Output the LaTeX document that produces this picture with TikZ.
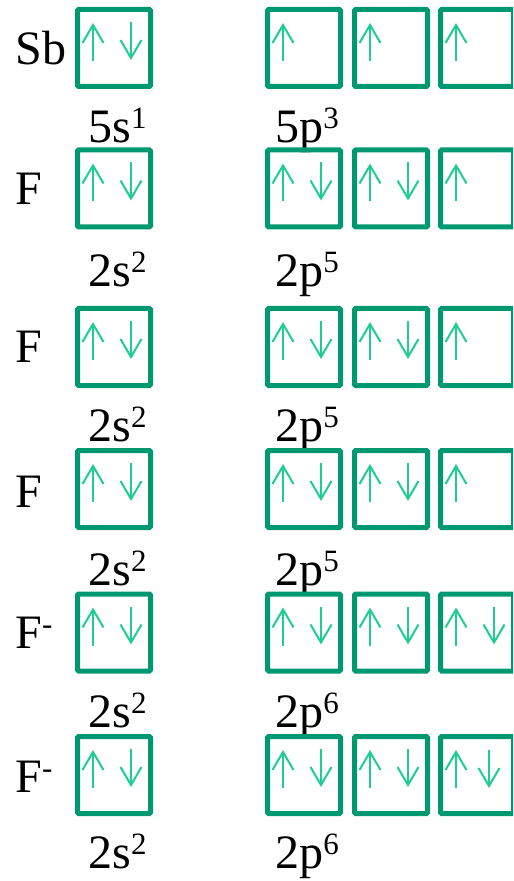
\documentclass[tikz,border=0pt]{standalone}
\usepackage{fontspec}
\setmainfont{Liberation Serif}
\usetikzlibrary{arrows.meta}
\definecolor{orbgreen}{RGB}{0,152,113}
\definecolor{spingreen}{RGB}{30,205,145}
\newcommand{\shellup}[1]{\raisebox{7pt}{\fontsize{15.5}{15.5}\selectfont #1}}

\begin{document}
\begin{tikzpicture}[x=0.5pt,y=-0.5pt,font=\fontsize{24}{24}\selectfont]

                \tikzset{orb/.style = {draw=orbgreen, line width=2.5pt, minimum width=36.5pt, minimum height=38.5pt, inner sep=0pt, rounded corners=0.6pt}}
                \tikzset{spin/.style = {draw=spingreen, line width=1pt, -{Straight Barb[length=9pt,width=10.5pt]}}}
                \tikzset{elem/.style = {anchor=base west, inner sep=0pt}}

                \useasboundingbox (0,0) rectangle (513,881);
                \clip (0,0) rectangle (513,881);

                % Sb
                \node[elem] (lab1) at (15,65) {Sb};
                \node[orb] (s1)  at (114,48) {};
                \node[orb] (p1x) at (304,48) {};
                \node[orb] (p1y) at (391,48) {};
                \node[orb] (p1z) at (477,48) {};
                \node[elem] (sub1s) at (88,143)  {5s\shellup{1}};
                \node[elem] (sub1p) at (275,143) {5p\shellup{3}};

                % F
                \node[elem] (lab2) at (15,205) {F};
                \node[orb] (s2)  at (114,188.5) {};
                \node[orb] (p2x) at (304,188.5) {};
                \node[orb] (p2y) at (391,188.5) {};
                \node[orb] (p2z) at (477,188.5) {};
                \node[elem] (sub2s) at (88,287)  {2s\shellup{2}};
                \node[elem] (sub2p) at (275,287) {2p\shellup{5}};

                % F
                \node[elem] (lab3) at (15,363) {F};
                \node[orb] (s3)  at (114,347) {};
                \node[orb] (p3x) at (304,347) {};
                \node[orb] (p3y) at (391,347) {};
                \node[orb] (p3z) at (477,347) {};
                \node[elem] (sub3s) at (88,441)  {2s\shellup{2}};
                \node[elem] (sub3p) at (275,441) {2p\shellup{5}};

                % F
                \node[elem] (lab4) at (15,507) {F};
                \node[orb] (s4)  at (114,489) {};
                \node[orb] (p4x) at (304,489) {};
                \node[orb] (p4y) at (391,489) {};
                \node[orb] (p4z) at (477,489) {};
                \node[elem] (sub4s) at (88,585)  {2s\shellup{2}};
                \node[elem] (sub4p) at (275,585) {2p\shellup{5}};

                % F-
                \node[elem] (lab5) at (15,648) {F\shellup{-}};
                \node[orb] (s5)  at (114,632.5) {};
                \node[orb] (p5x) at (304,632.5) {};
                \node[orb] (p5y) at (391,632.5) {};
                \node[orb] (p5z) at (477,632.5) {};
                \node[elem] (sub5s) at (88,727)  {2s\shellup{2}};
                \node[elem] (sub5p) at (275,727) {2p\shellup{6}};

                % F-
                \node[elem] (lab6) at (15,792) {F\shellup{-}};
                \node[orb] (s6)  at (114,775) {};
                \node[orb] (p6x) at (304,775) {};
                \node[orb] (p6y) at (391,775) {};
                \node[orb] (p6z) at (477,775) {};
                \node[elem] (sub6s) at (88,868)  {2s\shellup{2}};
                \node[elem] (sub6p) at (275,868) {2p\shellup{6}};

                % spin up in every box
                \foreach \b in {s1,p1x,p1y,p1z,s2,p2x,p2y,p2z,s3,p3x,p3y,p3z,s4,p4x,p4y,p4z,s5,p5x,p5y,p5z,s6,p6x,p6y,p6z}
                    \draw[spin] ([shift={(18,54)}]\b.north west) -- ++(0,-38);

                % spin down where paired
                \foreach \b in {s1,s2,p2x,p2y,s3,p3x,p3y,s4,p4x,p4y,s5,p5x,p5y,p5z,s6,p6x,p6y}
                    \draw[spin] ([shift={(56,15)}]\b.north west) -- ++(0,38);
                \draw[spin] ([shift={(51,16)}]p6z.north west) -- ++(0,38);

\end{tikzpicture}
\end{document}
